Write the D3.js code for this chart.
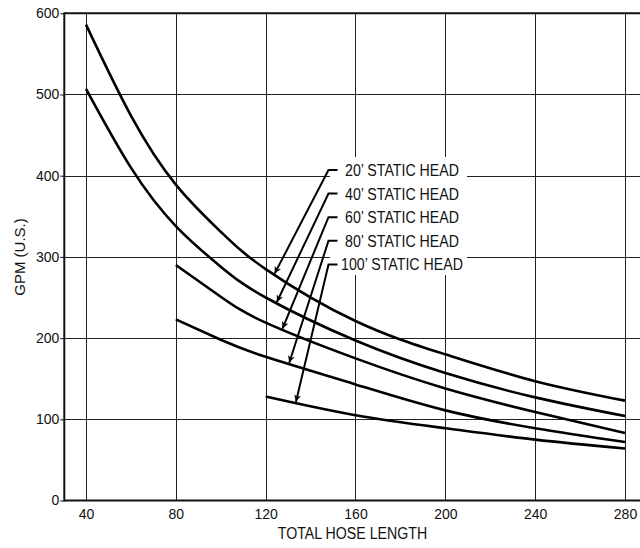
<!DOCTYPE html>
<html><head><meta charset="utf-8">
<script src="https://cdn.jsdelivr.net/npm/d3@7"></script>
<style>
body{margin:0;background:#fff;}
svg{display:block;}
</style></head>
<body><svg id="c" width="640" height="548"></svg>
<script>
// ---- data ----
const xTicks = [40, 80, 120, 160, 200, 240, 280];
const yTicks = [0, 100, 200, 300, 400, 500, 600];
const head20  = [[40,586],[60,474],[80,389],[100,331],[120,285],[160,221],[200,180],[240,147],[280,123]];
const head40  = [[40,507],[60,410],[80,338],[100,288],[120,250],[160,197],[200,157],[240,127],[280,104]];
const head60  = [[80,290],[100,251],[120,219],[160,175],[200,138],[240,109],[280,83]];
const head80  = [[80,223],[100,198],[120,177],[160,143],[200,111],[240,89],[280,72]];
const head100 = [[120,128],[160,105],[200,89],[240,75],[280,64]];
const seriesNames = ["20\u2019 STATIC HEAD","40\u2019 STATIC HEAD","60\u2019 STATIC HEAD","80\u2019 STATIC HEAD","100\u2019 STATIC HEAD"];
// x value on each curve where the label arrow points
const arrowAt = [124, 125, 127.5, 130.5, 133.5];
const xTitle = "TOTAL HOSE LENGTH";
const yTitle = "GPM (U.S.)";

const series = [head20, head40, head60, head80, head100];

const svg = d3.select("#c");
const x = d3.scaleLinear().domain([30.34, 286.68]).range([64.3, 640]);
const y = d3.scaleLinear().domain([0, 600]).range([500.5, 13.3]);

const tickFont = "'Liberation Sans', Arial, Helvetica, sans-serif";
const narrowScale = 0.86;

// grid
const grid = svg.append("g").attr("stroke", "#222").attr("stroke-width", 1.1).attr("shape-rendering","crispEdges");
grid.selectAll("line.v").data(xTicks).join("line")
  .attr("x1", d => Math.round(x(d)) + 0.5).attr("x2", d => Math.round(x(d)) + 0.5)
  .attr("y1", y(600)).attr("y2", y(0));
grid.selectAll("line.h").data(yTicks.filter(d => d > 0 && d < 600)).join("line")
  .attr("class","h")
  .attr("x1", x.range()[0]).attr("x2", 640)
  .attr("y1", d => Math.round(y(d)) + 0.5).attr("y2", d => Math.round(y(d)) + 0.5);

// y axis
const yAxis = d3.axisLeft(y).tickValues(yTicks).tickSize(4).tickPadding(1);
const gy = svg.append("g").attr("transform", `translate(${x.range()[0]},0)`).call(yAxis);
gy.select(".domain").remove();
gy.selectAll(".tick line").attr("stroke", "#222").attr("stroke-width", 1.1);
gy.selectAll(".tick text").attr("font-family", tickFont).attr("font-size", 14).attr("fill", "#111");

// x axis
const xAxis = d3.axisBottom(x).tickValues(xTicks).tickSize(0).tickPadding(9);
const gx = svg.append("g").attr("transform", `translate(0,${y(0)})`).call(xAxis);
gx.select(".domain").remove();
gx.selectAll(".tick text").attr("font-family", tickFont).attr("font-size", 14).attr("fill", "#111");

// frame: left, bottom, top
svg.append("line").attr("x1", x.range()[0]).attr("x2", x.range()[0]).attr("y1", y(600) - 1).attr("y2", y(0) + 1)
  .attr("stroke", "#111").attr("stroke-width", 2);
svg.append("line").attr("x1", x.range()[0]).attr("x2", 640).attr("y1", y(0)).attr("y2", y(0))
  .attr("stroke", "#111").attr("stroke-width", 2);
svg.append("line").attr("x1", x.range()[0]).attr("x2", 640).attr("y1", y(600)).attr("y2", y(600))
  .attr("stroke", "#111").attr("stroke-width", 2);

// curves
const line = d3.line().x(d => x(d[0])).y(d => y(d[1])).curve(d3.curveNatural);
svg.append("g").selectAll("path").data(series).join("path")
  .attr("d", line).attr("fill", "none").attr("stroke", "#000").attr("stroke-width", 2.6);

// label box (white background)
svg.append("rect").attr("x", 330).attr("y", 157).attr("width", 137).attr("height", 118).attr("fill", "#fff");

// arrow marker
svg.append("defs").append("marker").attr("id", "arr")
  .attr("viewBox", "0 0 10 10").attr("refX", 10).attr("refY", 5)
  .attr("markerWidth", 10).attr("markerHeight", 7).attr("markerUnits", "userSpaceOnUse")
  .attr("orient", "auto")
  .append("path").attr("d", "M0,0 L10,5 L0,10 L3,5 Z").attr("fill", "#000");

// labels + leaders
const labelY0 = 176, labelDy = 23.6, cornerX = 328.5, stubEnd = 337.5, textX = 402;
const lab = svg.append("g");
seriesNames.forEach((name, i) => {
  const by = labelY0 + i * labelDy;
  const my = by - 6;
  lab.append("text").attr("transform", `translate(${textX},${by}) scale(${narrowScale},1)`)
    .attr("text-anchor", "middle")
    .attr("font-family", tickFont).attr("font-size", 16.5).attr("fill", "#111").text(name);
  const s = series[i];
  const tx = x(arrowAt[i]);
  const tmp = svg.append("path").attr("d", line(s)).attr("fill","none").attr("stroke","none");
  const node = tmp.node(), L = node.getTotalLength();
  let lo = 0, hi = L;
  for (let k = 0; k < 40; k++) { const mid = (lo + hi) / 2; if (node.getPointAtLength(mid).x < tx) lo = mid; else hi = mid; }
  const tip = node.getPointAtLength(lo);
  tmp.remove();
  lab.append("path")
    .attr("d", `M${stubEnd},${my} L${cornerX},${my} L${tip.x},${tip.y - 1.5}`)
    .attr("fill", "none").attr("stroke", "#000").attr("stroke-width", 2)
    .attr("marker-end", "url(#arr)");
});

// axis titles
svg.append("text").attr("transform", `translate(352.5,539) scale(${narrowScale},1)`).attr("text-anchor", "middle")
  .attr("font-family", tickFont).attr("font-size", 16.5).attr("fill", "#111").text(xTitle);
svg.append("text").attr("transform", "translate(25,257) rotate(-90)").attr("text-anchor", "middle")
  .attr("font-family", tickFont).attr("font-size", 15).attr("fill", "#111").text(yTitle);
</script></body></html>
